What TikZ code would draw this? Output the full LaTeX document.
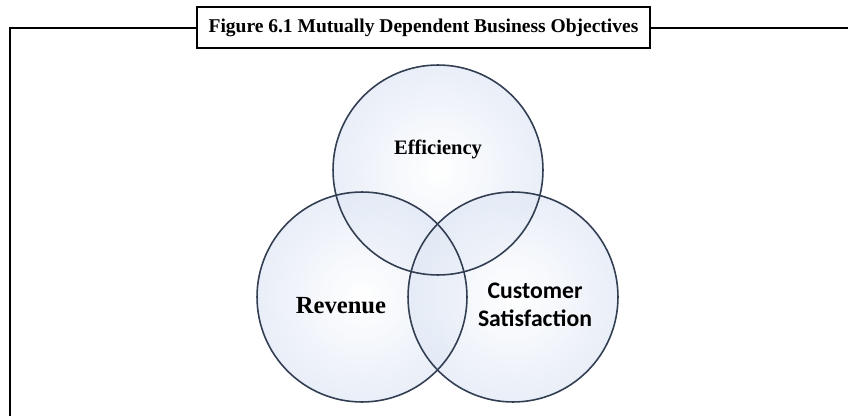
\documentclass[tikz,border=0pt]{standalone}
\usepackage{fontspec}
\newfontfamily\carlito{Carlito}
\newfontfamily\timesrm{Liberation Serif}
\usepackage{tikz}
\usetikzlibrary{positioning}
\definecolor{Bubble-in}{RGB}{222,230,244}
\definecolor{Bubble-out}{RGB}{92,122,182}
\definecolor{Bubble-line}{RGB}{50,62,82}
\pgfdeclareradialshading{bubble}{\pgfpoint{0bp}{0bp}}{color(0bp)=(white); color(26bp)=(Bubble-in); color(50bp)=(Bubble-out)}

\begin{document}
\begin{tikzpicture}[x=0.02cm, y=0.02cm,
    bubble/.style={circle, shading=bubble, fill opacity=0.7, minimum size=4.2cm, inner sep=0pt, outer sep=0pt},
    rim/.style={draw=Bubble-line, line width=0.9pt}]
    \useasboundingbox (0, 0) rectangle (848, 416);

    \node[bubble] (eff)  at (438, 416-170) {};
    \node[bubble] (rev)  at (362, 416-297) {};
    \node[bubble] (cust) at (513, 416-297) {};

    \draw[rim] (eff.east)  arc[start angle=0, end angle=360, radius=2.1cm];
    \draw[rim] (rev.east)  arc[start angle=0, end angle=360, radius=2.1cm];
    \draw[rim] (cust.east) arc[start angle=0, end angle=360, radius=2.1cm];

    \node[font=\timesrm\bfseries\fontsize{11.7}{14}\selectfont] (eff_txt) at (438, 416-149) {Efficiency};
    \node[font=\timesrm\bfseries\fontsize{14}{17}\selectfont] (rev_txt) at (341, 416-306) {Revenue};
    \node[font=\carlito\bfseries\fontsize{13.5}{16}\selectfont, align=center] (cust_txt) at (535, 416-305) {Customer\\Satisfaction};

    \draw[line width=1.1pt] (10, 0) -- (10, 416-28) -- (848, 416-28);
    \node[draw, line width=1.2pt, fill=white, minimum width=9.06cm, minimum height=0.82cm, font=\timesrm\bfseries\fontsize{11.1}{13}\selectfont] (title) at (423.5, 416-27.5) {Figure 6.1 Mutually Dependent Business Objectives};
\end{tikzpicture}
\end{document}
